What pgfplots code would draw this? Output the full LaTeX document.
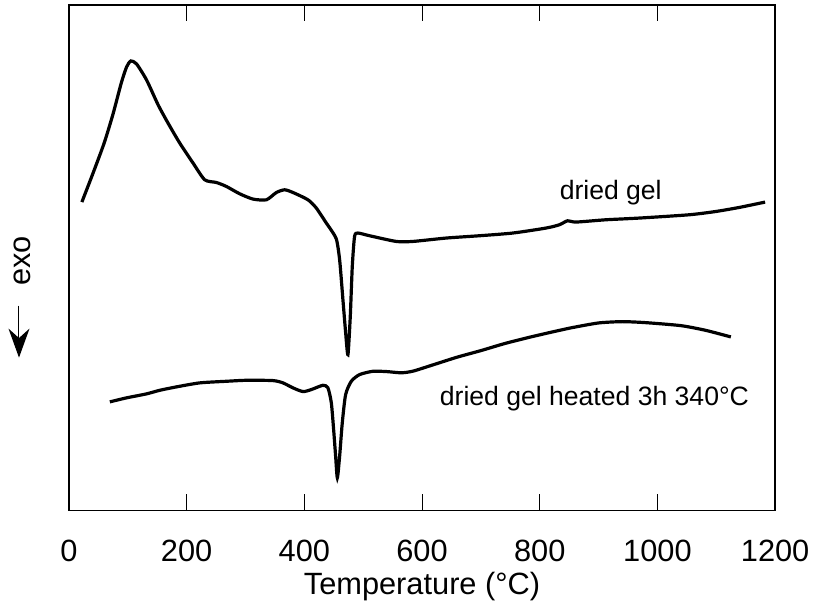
\documentclass[border=0pt]{standalone}
\usepackage{fontspec}
\setmainfont{Liberation Sans}
\usepackage{pgfplots}
\pgfplotsset{compat=1.18}
\usetikzlibrary{arrows.meta}
\begin{document}
\begin{tikzpicture}
\begin{axis}[
  scale only axis,
  width=353.5pt, height=253pt,
  xmin=0, xmax=1200, ymin=0, ymax=506,
  xtick={0,200,400,600,800,1000,1200},
  ytick=\empty,
  xtick pos=both, xticklabel pos=lower,
  tick align=inside,
  major tick length=8pt,
  tick style={line width=0.5pt, black},
  axis line style={line width=0.8pt},
  /pgf/number format/assume math mode=true,
  /pgf/number format/1000 sep={},
  ticklabel style={font=\fontsize{15.4}{18}\selectfont},
  xticklabel style={anchor=base, yshift=-25.5pt},
  xlabel={Temperature (°C)},
  xlabel style={font=\fontsize{15.4}{18}\selectfont, at={(axis description cs:0.5,-0.166)}, anchor=base},
  clip=false,
]
\addplot[black, line width=1.6pt, smooth, tension=0.4] coordinates {
(22,308.7) (41,337.7) (60,368) (75,397) (89,428) (98,444) (105.2,450)
(114.9,447) (131.9,431) (151.6,406) (168.5,387.7) (188.4,367.7) (211.0,347.7)
(230.8,331) (250.7,328.3) (267.7,324.3) (290.2,317) (312.8,311.7) (335.6,311)
(352.5,318.3) (366.6,321) (380.7,318.3) (406.2,311) (420.4,302.7) (437.4,287.7)
(443.0,283) (454.4,271.7) (460.0,251) (465.6,211) (470.2,178) (474.1,156)
(478.1,194.3) (481.5,244.3) (485.4,274.3) (491.0,277.7) (510.9,275) (556.2,269.3)
(584.4,269.3) (641.1,272.7) (697.6,275) (754.1,277.7) (810.8,282.7) (833.4,286)
(847.4,290) (861.7,288.7) (912.6,291) (969.2,292.7) (1054.0,296) (1099.4,299.3)
(1138.7,303.3) (1183.0,308.7)
};
\addplot[black, line width=1.6pt, smooth, tension=0.4] coordinates {
(69.6,108.7) (97.9,112.7) (131.9,116.7) (154.5,120.3) (182.8,123.7) (222.3,127.7)
(267.7,129.3) (301.6,130.3) (346.8,130) (363.7,127.7) (380.7,122.7) (397.7,119)
(411.9,121) (431.6,125.3) (440.1,122.7) (445.9,107.7) (449.8,81) (453.2,54.3)
(456.1,32.7) (460.0,54.3) (464.5,87.7) (470.2,116) (479.8,129.3) (493.9,136)
(516.5,139.3) (540,139) (565,137.8) (585,139.5) (620,146) (660,153.5) (700,160)
(740,167) (780,173) (820,178.5) (855,183) (900,187.7) (940,189) (980,188)
(1040,185) (1082,180.3) (1124.8,173.7)
};
\node[anchor=base west, inner sep=0pt, font=\fontsize{13.3}{16}\selectfont] at (axis cs:833.4,311.7) {dried gel};
\node[anchor=base west, inner sep=0pt, font=\fontsize{13.3}{16}\selectfont] at (axis cs:629.7,105) {dried gel heated 3h 340°C};
\node[rotate=90, inner sep=0pt, font=\fontsize{15.4}{18}\selectfont] at (axis description cs:-0.0665,0.494) {exo};
\draw[line width=0.5pt, -{Stealth[length=14.5pt, width=10.5pt]}] (axis description cs:-0.0707,0.4051) -- (axis description cs:-0.0707,0.3024);
\path (axis description cs:-0.0976,-0.1897) rectangle (axis description cs:1.0566,1.0099);
\end{axis}
\end{tikzpicture}
\end{document}
